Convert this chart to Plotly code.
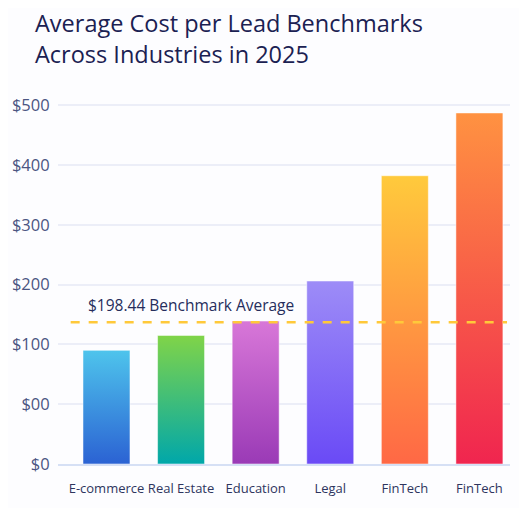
import plotly.graph_objects as go

# data (positions on the y axis scale)
categories = ["E-commerce", "Real Estate", "Education", "Legal", "FinTech", "FinTech"]
cost_values = [190, 215, 239, 306, 482, 587]
benchmark_value = 237
benchmark_label = "$198.44 Benchmark Average"
tick_vals = [0, 100, 200, 300, 400, 500, 600]
tick_text = ["$0", "$00", "$100", "$200", "$300", "$400", "$500"]
title_text = "Average Cost per Lead Benchmarks<br>Across Industries in 2025"

# bottom / top colours of each bar gradient
bar_colors = [
    ("#2b62d3", "#4ec4ec"),
    ("#00a7aa", "#80d448"),
    ("#9a3ab6", "#d877d8"),
    ("#6a4af6", "#9d8cf7"),
    ("#ff6845", "#ffca3c"),
    ("#f0254f", "#ff9241"),
]

half_w = 0.315

fig = go.Figure()
for i, (cat, val) in enumerate(zip(categories, cost_values)):
    bottom, top = bar_colors[i]
    fig.add_trace(go.Scatter(
        x=[i - half_w, i - half_w, i + half_w, i + half_w, i - half_w],
        y=[0, val, val, 0, 0],
        fill="toself",
        fillgradient=dict(type="vertical", colorscale=[[0, bottom], [1, top]]),
        line=dict(color="rgba(255,255,255,0.5)", width=1),
        mode="lines",
        name=cat,
        hoverinfo="skip",
        showlegend=False,
    ))

# benchmark line
fig.add_shape(type="line", xref="x", yref="y",
              x0=-0.48, x1=5.37, y0=benchmark_value, y1=benchmark_value,
              line=dict(color="#ffc93a", width=2.5, dash="dash"), layer="above")
fig.add_annotation(x=-0.28, y=benchmark_value + 29, xref="x", yref="y",
                   text=benchmark_label, showarrow=False,
                   xanchor="left", yanchor="middle",
                   font=dict(family="Open Sans", size=15.5, color="#262d5c"))

fig.update_layout(
    width=527, height=508,
    margin=dict(l=50, r=25, t=87, b=52),
    paper_bgcolor="#fdfdff",
    plot_bgcolor="#fdfdff",
    title=dict(
        text=title_text,
        x=27 / 527, xref="container", xanchor="left",
        y=0.952, yref="container", yanchor="top",
        font=dict(family="Open Sans", size=23.5, color="#1b2152"),
    ),
    xaxis=dict(
        range=[-0.65, 5.41],
        tickvals=list(range(len(categories))),
        ticktext=categories,
        tickangle=0,
        automargin=False,
        showgrid=False, zeroline=False,
        ticks="outside", ticklen=12, tickcolor="rgba(0,0,0,0)",
        tickfont=dict(family="Open Sans", size=13, color="#2e355e"),
        showline=True, linecolor="#d6e0f5", linewidth=1.5,
    ),
    yaxis=dict(
        range=[0, 617],
        tickvals=tick_vals,
        ticktext=tick_text,
        automargin=False,
        showgrid=True, gridcolor="#eceef8", gridwidth=1.5,
        zeroline=False,
        ticks="outside", ticklen=4, tickcolor="rgba(0,0,0,0)",
        tickfont=dict(family="Open Sans", size=16.5, color="#4b5582"),
    ),
)

fig.write_html("out.html")
